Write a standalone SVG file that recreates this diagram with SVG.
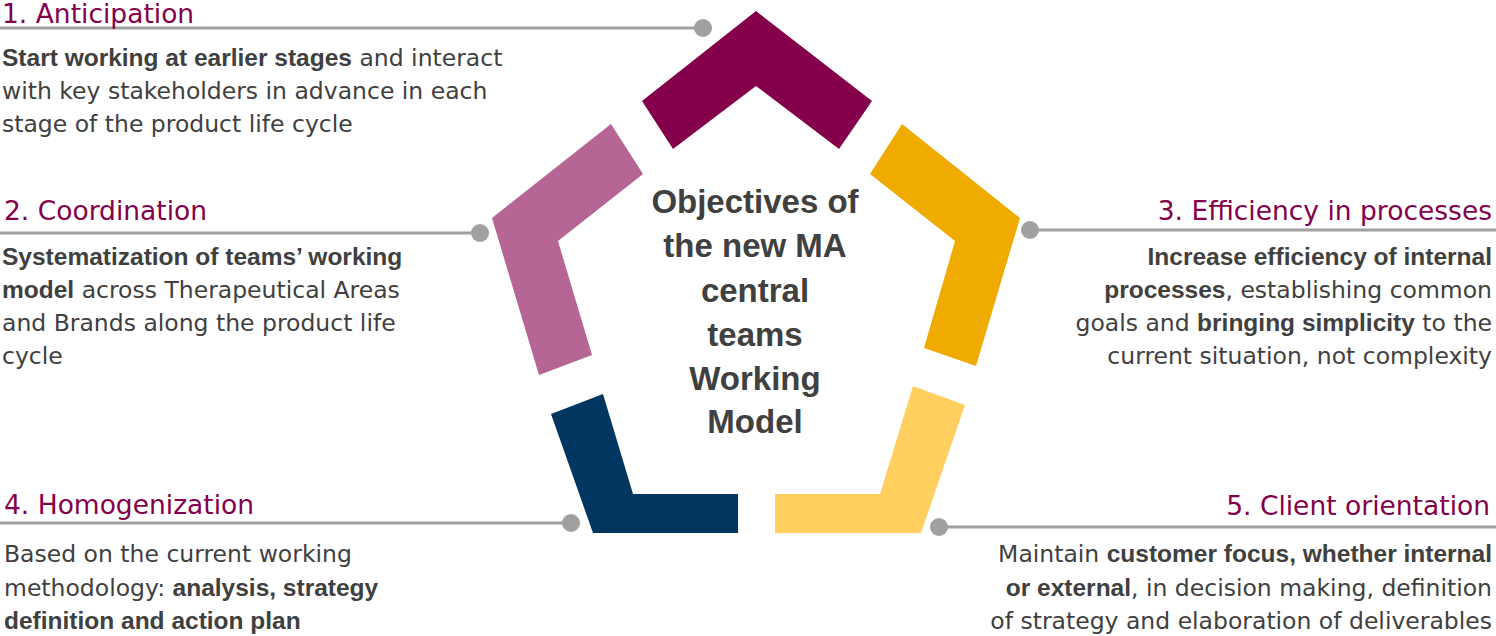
<svg xmlns="http://www.w3.org/2000/svg" width="1496" height="636" viewBox="0 0 1496 636">
<style>
.t{font-family:"DejaVu Sans",Verdana,sans-serif;font-size:26.5px;fill:#85004b}
.b{font-family:"DejaVu Sans",Verdana,sans-serif;font-size:23.5px;fill:#404040}
.b tspan.s{font-family:"Liberation Sans",Arial,sans-serif;font-size:24.5px;font-weight:bold}
.r{text-anchor:end}
.c{font-family:"Liberation Sans",Arial,sans-serif;font-size:33px;font-weight:bold;fill:#404040;text-anchor:middle}
.ln{stroke:#a0a0a0;stroke-width:3;fill:none}
.dot{fill:#a0a0a0}
</style>
<rect width="1496" height="636" fill="#fff"/>
<g id="connectors">
<line class="ln" x1="0" y1="28" x2="703" y2="28"/><circle class="dot" cx="703" cy="28" r="9"/>
<line class="ln" x1="0" y1="233" x2="480" y2="233"/><circle class="dot" cx="480" cy="233" r="9"/>
<line class="ln" x1="1030" y1="230" x2="1496" y2="230"/><circle class="dot" cx="1030" cy="230" r="9"/>
<line class="ln" x1="0" y1="523" x2="571" y2="523"/><circle class="dot" cx="571" cy="523" r="9"/>
<line class="ln" x1="939" y1="527" x2="1496" y2="527"/><circle class="dot" cx="939" cy="527" r="9"/>
</g>
<g id="pentagon">
<polygon fill="#85004b" points="756,11 872,101 839,149 756,86 673,149 642,101"/>
<polygon fill="#b56694" points="611,124 643,174 558,241 592,355 539,375 492,218"/>
<polygon fill="#efab00" points="902,124 1020,218 976,366 924,348 955,241 870,174"/>
<polygon fill="#003660" points="603,394 551,414 593,533 738,533 738,494 633,494"/>
<polygon fill="#ffd05f" points="775,494 775,533 921,533 965,405 913,386 880,494"/>
</g>
<g id="center">
<text class="c"><tspan x="755" y="213">Objectives of</tspan><tspan x="755" y="257">the new MA</tspan><tspan x="755" y="302">central</tspan><tspan x="755" y="346">teams</tspan><tspan x="755" y="390">Working</tspan><tspan x="755" y="433">Model</tspan></text>
</g>
<g id="n1">
<text class="t" x="2" y="23">1. Anticipation</text>
<text class="b"><tspan x="2" y="66"><tspan class="s">Start working at earlier stages</tspan> and interact</tspan><tspan x="2" y="99">with key stakeholders in advance in each</tspan><tspan x="2" y="132">stage of the product life cycle</tspan></text>
</g>
<g id="n2">
<text class="t" x="4" y="220">2. Coordination</text>
<text class="b"><tspan x="2" y="265"><tspan class="s">Systematization of teams’ working</tspan></tspan><tspan x="2" y="298"><tspan class="s">model</tspan> across Therapeutical Areas</tspan><tspan x="2" y="331">and Brands along the product life</tspan><tspan x="2" y="364">cycle</tspan></text>
</g>
<g id="n3">
<text class="t r" x="1492" y="220">3. Efficiency in processes</text>
<text class="b r"><tspan x="1492" y="265"><tspan class="s">Increase efficiency of internal</tspan></tspan><tspan x="1492" y="298"><tspan class="s">processes</tspan>, establishing common</tspan><tspan x="1492" y="331">goals and <tspan class="s">bringing simplicity</tspan> to the</tspan><tspan x="1492" y="364">current situation, not complexity</tspan></text>
</g>
<g id="n4">
<text class="t" x="4" y="514">4. Homogenization</text>
<text class="b"><tspan x="4" y="562">Based on the current working</tspan><tspan x="4" y="596">methodology: <tspan class="s">analysis, strategy</tspan></tspan><tspan x="4" y="629"><tspan class="s">definition and action plan</tspan></tspan></text>
</g>
<g id="n5">
<text class="t r" x="1490" y="515">5. Client orientation</text>
<text class="b r"><tspan x="1492" y="562">Maintain <tspan class="s">customer focus, whether internal</tspan></tspan><tspan x="1492" y="596"><tspan class="s">or external</tspan>, in decision making, definition</tspan><tspan x="1492" y="629">of strategy and elaboration of deliverables</tspan></text>
</g>
</svg>
